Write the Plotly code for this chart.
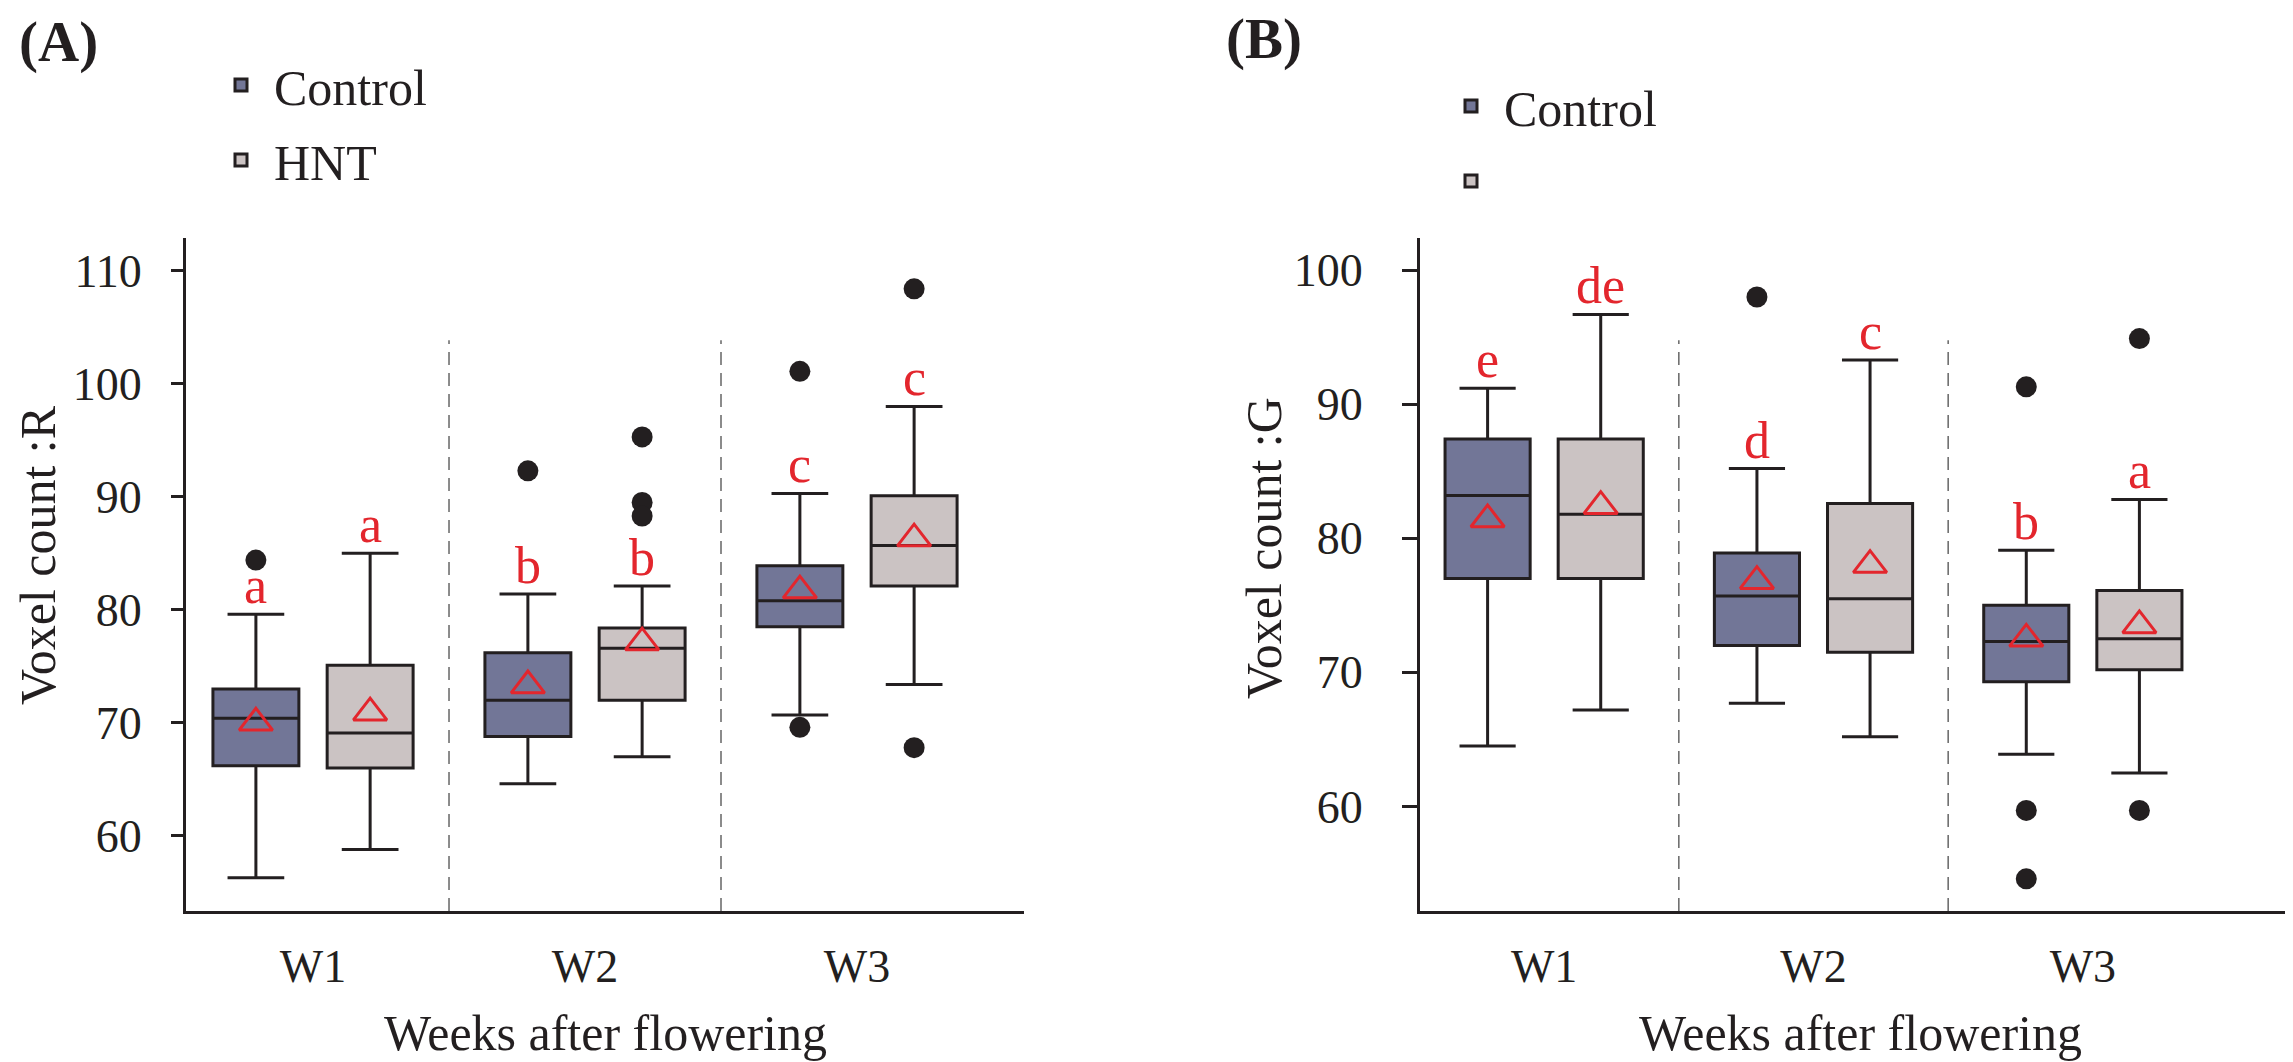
import plotly.graph_objects as go

weeks = ["W1", "W2", "W3"]
groups = ["Control", "HNT"]
colors = {"Control": "#727697", "HNT": "#CBC3C3"}

# panel A : Voxel count :R
r_stats = {
    "Control": dict(lower=[56.3, 64.6, 70.7], q1=[66.2, 68.8, 78.5], med=[70.4, 72.0, 80.8],
                    q3=[73.0, 76.2, 83.9], upper=[79.6, 81.4, 90.3], mean=[70.0, 73.3, 81.7]),
    "HNT": dict(lower=[58.8, 67.0, 73.4], q1=[66.0, 72.0, 82.1], med=[69.1, 76.6, 85.7],
                q3=[75.1, 78.4, 90.1], upper=[85.0, 82.1, 98.0], mean=[70.9, 77.1, 86.3]),
}
r_outliers = {
    "Control": [[84.4], [92.3], [101.1, 69.6]],
    "HNT": [[], [95.3, 89.5, 88.3], [108.4, 67.8]],
}
r_letters = {"Control": ["a", "b", "c"], "HNT": ["a", "b", "c"]}

# panel B : Voxel count :G
g_stats = {
    "Control": dict(lower=[64.5, 67.7, 63.9], q1=[77.0, 72.0, 69.3], med=[83.2, 75.7, 72.3],
                    q3=[87.4, 78.9, 75.0], upper=[91.2, 85.2, 79.1], mean=[81.4, 76.8, 72.5]),
    "HNT": dict(lower=[67.2, 65.2, 62.5], q1=[77.0, 71.5, 70.2], med=[81.8, 75.5, 72.5],
                q3=[87.4, 82.6, 76.1], upper=[96.7, 93.3, 82.9], mean=[82.4, 78.0, 73.5]),
}
g_outliers = {
    "Control": [[], [98.0], [91.3, 59.7, 54.6]],
    "HNT": [[], [], [94.9, 59.7]],
}
g_letters = {"Control": ["e", "d", "b"], "HNT": ["de", "c", "a"]}

FONT = "Liberation Serif, Times New Roman, serif"
DARK = "#231F20"
RED = "#E3262D"
W, H = 2293, 1062
offset = {"Control": -0.21, "HNT": 0.21}
box_w = 0.316

fig = go.Figure()
annotations = []


def add_panel(stats, outliers, letters, xa, ya, legend, hnt_name):
    for g in groups:
        s = stats[g]
        pos = [i + 1 + offset[g] for i in range(len(weeks))]
        fig.add_trace(go.Box(
            x=pos, q1=s["q1"], median=s["med"], q3=s["q3"],
            lowerfence=s["lower"], upperfence=s["upper"],
            width=box_w, whiskerwidth=0.66, boxpoints=False,
            fillcolor=colors[g], line=dict(color=DARK, width=3),
            name=g if g == "Control" else hnt_name, legendgroup=legend + g,
            xaxis=xa, yaxis=ya, legend=legend, showlegend=True,
        ))
        ox, oy = [], []
        for p, vals in zip(pos, outliers[g]):
            ox += [p] * len(vals)
            oy += vals
        fig.add_trace(go.Scatter(
            x=ox, y=oy, mode="markers", showlegend=False, xaxis=xa, yaxis=ya,
            marker=dict(symbol="circle", size=21, color=DARK),
        ))
        fig.add_trace(go.Scatter(
            x=pos, y=s["mean"], mode="markers", showlegend=False, xaxis=xa, yaxis=ya,
            marker=dict(symbol="triangle-up-open", size=29, color=RED, line=dict(width=3, color=RED)),
        ))
        for p, up, lab in zip(pos, s["upper"], letters[g]):
            annotations.append(dict(
                x=p, y=up, xref=xa, yref=ya, text=lab, showarrow=False,
                yanchor="bottom", yshift=-2, font=dict(family=FONT, size=52, color=RED),
            ))


add_panel(r_stats, r_outliers, r_letters, "x", "y", "legend", "HNT")
add_panel(g_stats, g_outliers, g_letters, "x2", "y2", "legend2", " ")

ydom = [(H - 903) / H, (H - 230) / H]
axis_common = dict(showline=True, linecolor=DARK, linewidth=3, showgrid=False, zeroline=False,
                   tickfont=dict(family=FONT, size=46, color=DARK))
legend_common = dict(xanchor="left", yanchor="top", font=dict(family=FONT, size=50, color=DARK),
                     bgcolor="rgba(0,0,0,0)", traceorder="grouped", tracegroupgap=7,
                     itemwidth=56)

fig.update_layout(
    width=W, height=H, margin=dict(l=0, r=0, t=0, b=0),
    paper_bgcolor="white", plot_bgcolor="white",
    font=dict(family=FONT, color=DARK),
    xaxis=dict(domain=[178 / W, 1016 / W], range=[0.533, 3.614], tickvals=[1, 2, 3],
               ticktext=weeks, ticks="", ticklabelstandoff=13, anchor="y", **axis_common),
    yaxis=dict(domain=ydom, range=[53.35, 112.9], tickvals=[60, 70, 80, 90, 100, 110],
               ticks="outside", ticklen=12, tickwidth=3, tickcolor=DARK, ticklabelstandoff=20,
               anchor="x", **axis_common),
    xaxis2=dict(domain=[1412 / W, 1.0], range=[0.539, 3.81], tickvals=[1, 2, 3],
                ticktext=weeks, ticks="", ticklabelstandoff=13, anchor="y2", **axis_common),
    yaxis2=dict(domain=ydom, range=[52.2, 102.4], tickvals=[60, 70, 80, 90, 100],
                ticks="outside", ticklen=15, tickwidth=3, tickcolor=DARK, ticklabelstandoff=30,
                anchor="x2", **axis_common),
    legend=dict(x=200 / W, y=1 - 38 / H, **legend_common),
    legend2=dict(x=1430 / W, y=1 - 59 / H, **legend_common),
    showlegend=True,
)

# dashed separators between week groups
for xa in ["x", "x2"]:
    for sep in [1.5, 2.5]:
        fig.add_shape(type="line", xref=xa, yref=("y" if xa == "x" else "y2") + " domain",
                      x0=sep, x1=sep, y0=0, y1=0.848,
                      line=dict(color="#666666", width=1.5, dash="13px,8px"))

annotations += [
    dict(x=9 / W, y=1 - 34 / H, xref="paper", yref="paper", text="<b>(A)</b>", showarrow=False,
         xanchor="left", yanchor="middle", font=dict(family=FONT, size=57, color=DARK)),
    dict(x=1216 / W, y=1 - 31 / H, xref="paper", yref="paper", text="<b>(B)</b>", showarrow=False,
         xanchor="left", yanchor="middle", font=dict(family=FONT, size=57, color=DARK)),
    dict(x=0, y=1 - 547 / H, xref="paper", yref="paper", text="Voxel count :R", showarrow=False,
         textangle=-90, xanchor="left", yanchor="middle", font=dict(family=FONT, size=50, color=DARK)),
    dict(x=1226 / W, y=1 - 540 / H, xref="paper", yref="paper", text="Voxel count :G", showarrow=False,
         textangle=-90, xanchor="left", yanchor="middle", font=dict(family=FONT, size=50, color=DARK)),
    dict(x=597 / W, y=7 / H, xref="paper", yref="paper", text="Weeks after flowering",
         showarrow=False, xanchor="center", yanchor="bottom", font=dict(family=FONT, size=50, color=DARK)),
    dict(x=1852 / W, y=7 / H, xref="paper", yref="paper", text="Weeks after flowering",
         showarrow=False, xanchor="center", yanchor="bottom", font=dict(family=FONT, size=50, color=DARK)),
]
fig.update_layout(annotations=annotations)

fig.write_html("out.html")
